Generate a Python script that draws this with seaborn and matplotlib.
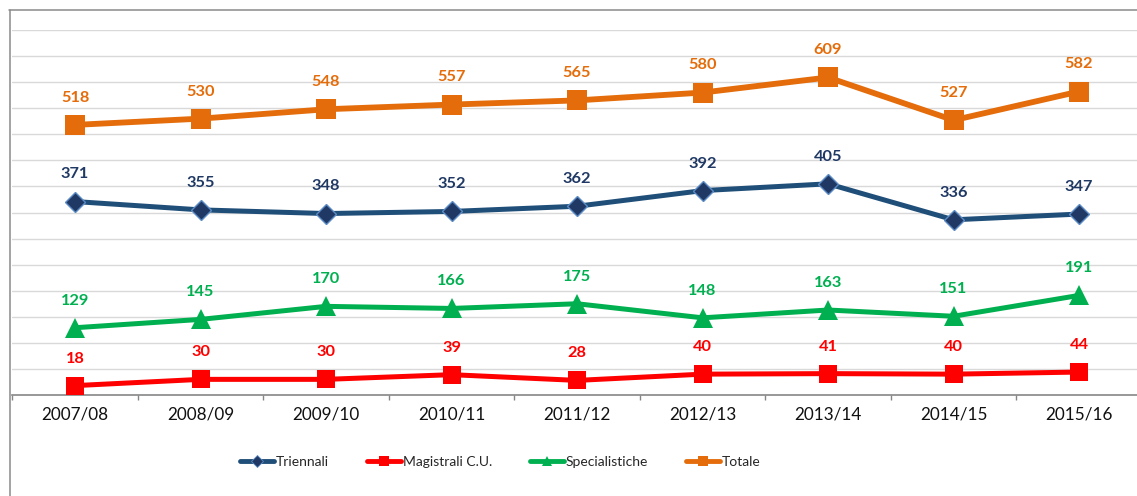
import numpy as np
import pandas as pd
import matplotlib
matplotlib.use("Agg")
import matplotlib.pyplot as plt
from matplotlib.lines import Line2D
import seaborn as sns

# Academic years and enrolment counts per degree type
anni = ['2007/08', '2008/09', '2009/10', '2010/11', '2011/12',
        '2012/13', '2013/14', '2014/15', '2015/16']
triennali = [371, 355, 348, 352, 362, 392, 405, 336, 347]
magistrali_cu = [18, 30, 30, 39, 28, 40, 41, 40, 44]
specialistiche = [129, 145, 170, 166, 175, 148, 163, 151, 191]
totale = [518, 530, 548, 557, 565, 580, 609, 527, 582]

sns.set_theme(style="white")
plt.rcParams['font.family'] = ['Lato', 'DejaVu Sans']

W, H = 1137, 496
fig = plt.figure(figsize=(W / 100, H / 100), dpi=100)
ax = fig.add_axes([12.3 / W, (H - 395) / H, 1129.5 / W, 365 / H])

pos = np.arange(len(anni))

series = [
    dict(name='Triennali', values=triennali, color='#1F4E79', marker='D',
         ms=10, mfc='#1F3864', mec='#5B8BC5', mew=1.0, lw=3.6,
         label_color='#1F3864', leg_ms=6),
    dict(name='Magistrali C.U.', values=magistrali_cu, color='#FF0000',
         marker='s', ms=13, mfc='#FF0000', mec='#FF0000', mew=0, lw=3.6,
         label_color='#FF0000', leg_ms=7),
    dict(name='Specialistiche', values=specialistiche, color='#00B050',
         marker='^', ms=14.5, mfc='#00B050', mec='#00B050', mew=0, lw=3.6,
         label_color='#00B050', leg_ms=7),
    dict(name='Totale', values=totale, color='#E46C0A', marker='s',
         ms=14.5, mfc='#E46C0A', mec='#E46C0A', mew=0, lw=4.2,
         label_color='#E46C0A', leg_ms=7),
]

handles = []
for s in series:
    df = pd.DataFrame({'pos': pos, 'val': s['values']})
    sns.lineplot(data=df, x='pos', y='val', ax=ax, color=s['color'],
                 linewidth=s['lw'], marker=s['marker'], markersize=s['ms'],
                 markerfacecolor=s['mfc'], markeredgecolor=s['mec'],
                 markeredgewidth=s['mew'], sort=False, legend=False,
                 zorder=3)
    for x, v in zip(pos, s['values']):
        ax.annotate(str(v), (x, v), xytext=(0, 19.5),
                    textcoords='offset points', ha='center', va='center',
                    fontsize=11.8, fontweight='bold', color=s['label_color'],
                    zorder=5)
    handles.append(Line2D([], [], color=s['color'], lw=3.5,
                          marker=s['marker'], ms=s['leg_ms'],
                          mfc=s['mfc'], mec=s['mec'], mew=s['mew'] * 0.6,
                          label=s['name']))

ax.set_xlim(-0.5, len(anni) - 0.5)
ax.set_ylim(0, 700)
ax.set_yticks(np.arange(50, 701, 50))
ax.yaxis.grid(True, color='#D9D9D9', linewidth=1.0)
ax.set_axisbelow(True)
ax.tick_params(axis='y', left=False, labelleft=False)

ax.set_xticks(pos)
ax.set_xticklabels(anni, fontsize=12.3, color='#111111')
ax.set_xticks(np.arange(-0.5, len(anni), 1.0), minor=True)
ax.tick_params(axis='x', which='major', length=0, pad=8)
ax.tick_params(axis='x', which='minor', length=3.6, width=1.0,
               color='#868686', direction='out', bottom=True)
ax.set_xlabel('')
ax.set_ylabel('')

for side in ['left', 'right', 'top']:
    ax.spines[side].set_visible(False)
ax.spines['bottom'].set_color('#868686')
ax.spines['bottom'].set_linewidth(1.2)

# Outer chart frame (top and left edges)
fig.add_artist(Line2D([9 / W, 1.0], [1 - 10 / H, 1 - 10 / H],
                      transform=fig.transFigure, color='#8A8A8A', lw=1.1))
fig.add_artist(Line2D([9.5 / W, 9.5 / W], [0.0, 1 - 10 / H],
                      transform=fig.transFigure, color='#8A8A8A', lw=1.1))

fig.legend(handles=handles, loc='center left',
           bbox_to_anchor=(240 / W, (H - 462) / H), ncol=4, frameon=False,
           fontsize=10, handlelength=2.45, handletextpad=0.12,
           columnspacing=2.75, borderpad=0, borderaxespad=0)

fig.savefig('out.png', dpi=100)
